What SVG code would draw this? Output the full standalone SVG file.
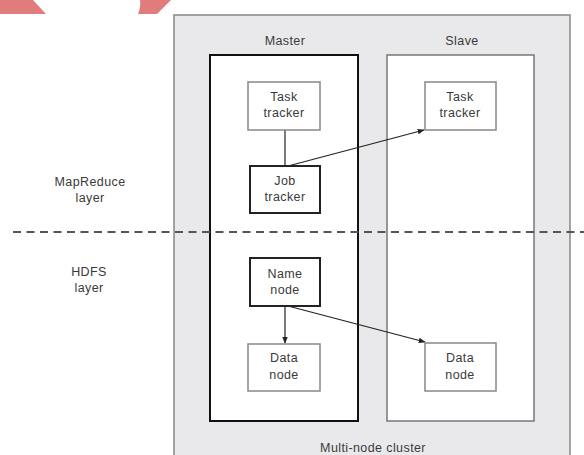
<svg xmlns="http://www.w3.org/2000/svg" width="584" height="455" viewBox="0 0 584 455">
<defs>
<marker id="ah" viewBox="0 0 10 10" refX="9" refY="5" markerWidth="7" markerHeight="7" markerUnits="userSpaceOnUse" orient="auto">
<path d="M0,1 L10,5 L0,9 z" fill="#222"/>
</marker>
</defs>
<style>
text{font-family:"Liberation Sans",Arial,sans-serif;font-size:12.5px;letter-spacing:0.4px;fill:#3a3a3a;text-anchor:middle}
.node{fill:#fff;stroke:#888;stroke-width:1.5}
.bold{fill:#fff;stroke:#222;stroke-width:2}
.conn{stroke:#222;stroke-width:1.2;fill:none}
</style>
<rect width="584" height="455" fill="#fff"/>
<g id="deco">
<polygon points="0,0 33,0 46,14 0,14" fill="#e07c7c"/>
<path d="M140,0 L171,0 L157,14 L138,14 Q141,7 140,0 z" fill="#e07c7c"/>
</g>
<g id="cluster">
<rect x="174" y="15" width="396" height="450" fill="#e9e9eb" stroke="#888" stroke-width="1.5"/>
<text x="373" y="452">Multi-node cluster</text>
</g>
<g id="master">
<rect x="210" y="55" width="148" height="366" fill="#fff" stroke="#111" stroke-width="2"/>
<text x="285" y="45">Master</text>
</g>
<g id="slave">
<rect x="387" y="55" width="147" height="366" fill="#fff" stroke="#777" stroke-width="1.5"/>
<text x="462" y="45">Slave</text>
</g>
<g id="layers">
<line x1="13" y1="232" x2="584" y2="232" stroke="#555" stroke-width="2.2" stroke-dasharray="8,5.5"/>
<text x="90" y="186">MapReduce</text>
<text x="90" y="202">layer</text>
<text x="89" y="276">HDFS</text>
<text x="89" y="292">layer</text>
</g>
<g id="connectors">
<line class="conn" x1="285" y1="130" x2="285" y2="166"/>
<line class="conn" x1="288" y1="166" x2="424" y2="130" marker-end="url(#ah)"/>
<line class="conn" x1="285" y1="306" x2="285" y2="343" marker-end="url(#ah)"/>
<line class="conn" x1="288" y1="306" x2="425" y2="342" marker-end="url(#ah)"/>
</g>
<g id="task-tracker-master">
<rect class="node" x="248" y="82" width="72" height="48"/>
<text x="284" y="101">Task</text>
<text x="284" y="117">tracker</text>
</g>
<g id="job-tracker">
<rect class="bold" x="250" y="166" width="70" height="47"/>
<text x="285" y="185">Job</text>
<text x="285" y="201">tracker</text>
</g>
<g id="task-tracker-slave">
<rect class="node" x="425" y="82" width="71" height="48"/>
<text x="460" y="101">Task</text>
<text x="460" y="117">tracker</text>
</g>
<g id="name-node">
<rect class="bold" x="250" y="258" width="70" height="48"/>
<text x="285" y="278">Name</text>
<text x="285" y="294">node</text>
</g>
<g id="data-node-master">
<rect class="node" x="248" y="344" width="72" height="47"/>
<text x="284" y="362">Data</text>
<text x="284" y="379">node</text>
</g>
<g id="data-node-slave">
<rect class="node" x="425" y="343" width="71" height="48"/>
<text x="460" y="362">Data</text>
<text x="460" y="379">node</text>
</g>
</svg>
